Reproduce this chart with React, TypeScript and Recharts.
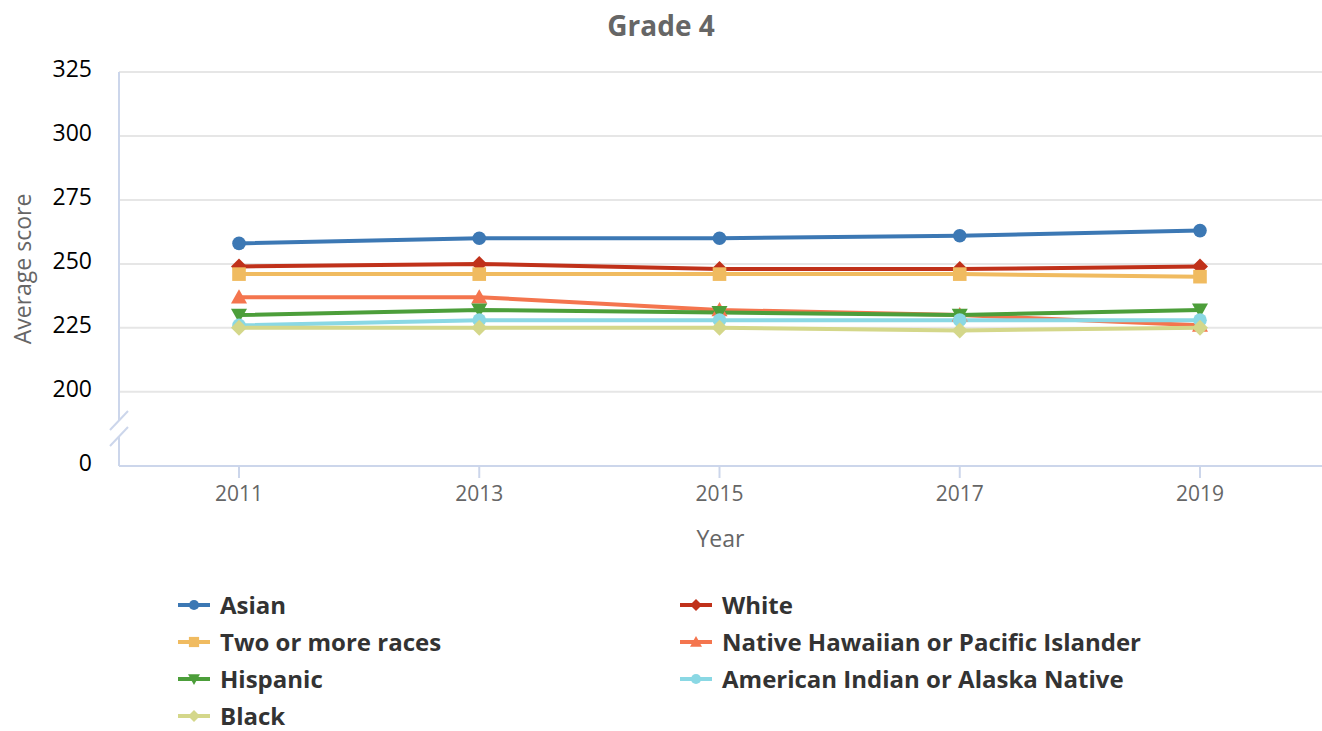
import { LineChart, Line, XAxis, YAxis, CartesianGrid } from "recharts";

const years = ["2011", "2013", "2015", "2017", "2019"];
const asian = [258, 260, 260, 261, 263];
const white = [249, 250, 248, 248, 249];
const twoOrMore = [246, 246, 246, 246, 245];
const nativeHawaiian = [237, 237, 232, 230, 226];
const hispanic = [230, 232, 231, 230, 232];
const americanIndian = [226, 228, 228, 228, 228];
const black = [225, 225, 225, 224, 225];

// the axis is broken: the "0" tick sits where 171 would be
const AXIS_ZERO = 171;
const yTicks = [AXIS_ZERO, 200, 225, 250, 275, 300, 325];

const series = [
  { key: "asian", name: "Asian", values: asian, color: "#3c78b4", shape: "circle" },
  { key: "white", name: "White", values: white, color: "#c0311a", shape: "diamond" },
  { key: "two", name: "Two or more races", values: twoOrMore, color: "#f0bb60", shape: "square" },
  { key: "nhpi", name: "Native Hawaiian or Pacific Islander", values: nativeHawaiian, color: "#f4754e", shape: "triangle" },
  { key: "hisp", name: "Hispanic", values: hispanic, color: "#4c9e3a", shape: "triangle-down" },
  { key: "aian", name: "American Indian or Alaska Native", values: americanIndian, color: "#8ad8e4", shape: "circle" },
  { key: "black", name: "Black", values: black, color: "#d4d78a", shape: "diamond" },
];

const data = years.map((year, i) => {
  const row: any = { year };
  series.forEach((s) => (row[s.key] = s.values[i]));
  return row;
});

const FONT = "'Open Sans', sans-serif";

function Marker({ cx, cy, shape, color, r }: any) {
  if (cx == null || cy == null) return null;
  switch (shape) {
    case "diamond":
      return <path d={`M${cx},${cy - r}L${cx + r},${cy}L${cx},${cy + r}L${cx - r},${cy}Z`} fill={color} />;
    case "square":
      return <rect x={cx - r * 0.85} y={cy - r * 0.85} width={r * 1.7} height={r * 1.7} fill={color} />;
    case "triangle":
      return <path d={`M${cx},${cy - r}L${cx + r},${cy + r * 0.8}L${cx - r},${cy + r * 0.8}Z`} fill={color} />;
    case "triangle-down":
      return <path d={`M${cx - r},${cy - r * 0.8}L${cx + r},${cy - r * 0.8}L${cx},${cy + r}Z`} fill={color} />;
    default:
      return <circle cx={cx} cy={cy} r={r * 0.85} fill={color} />;
  }
}

function YTick({ x, y, payload }: any) {
  const isZero = payload.value === AXIS_ZERO;
  return (
    <g>
      <text x={x} y={y - 4} textAnchor="end" dominantBaseline="central" fill="#000" fontSize={23} fontFamily={FONT}>
        {isZero ? "0" : payload.value}
      </text>
      {isZero && (
        <g>
          <path d={`M${x + 18},${y - 36}L${x + 36},${y - 55}L${x + 36},${y - 39}L${x + 18},${y - 20}Z`} fill="#fff" />
          <line x1={x + 18} y1={y - 36} x2={x + 36} y2={y - 55} stroke="#ccd6eb" strokeWidth={2} />
          <line x1={x + 18} y1={y - 20} x2={x + 36} y2={y - 39} stroke="#ccd6eb" strokeWidth={2} />
        </g>
      )}
    </g>
  );
}

function YLabel({ viewBox }: any) {
  const cy = viewBox.y + viewBox.height / 2;
  return (
    <text x={22} y={cy} transform={`rotate(-90, 22, ${cy})`} textAnchor="middle" dominantBaseline="central" fill="#666" fontSize={23} fontFamily={FONT}>
      Average score
    </text>
  );
}

function XLabel({ viewBox }: any) {
  return (
    <text x={viewBox.x + viewBox.width / 2} y={viewBox.y + 72} textAnchor="middle" dominantBaseline="central" fill="#666" fontSize={23} fontFamily={FONT}>
      Year
    </text>
  );
}

export default function App() {
  return (
    <div style={{ position: "absolute", left: 0, top: 0, width: 1322, height: 731, background: "#fff", fontFamily: FONT }}>
      <div style={{ position: "absolute", left: 0, top: 8, width: 1322, textAlign: "center", fontSize: 28, fontWeight: 700, color: "#666", lineHeight: "34px" }}>
        Grade 4
      </div>
      <LineChart width={1322} height={560} data={data} margin={{ top: 72, right: 0, bottom: 0, left: 0 }}>
        <CartesianGrid vertical={false} stroke="#e6e6e6" strokeWidth={2} />
        <XAxis
          dataKey="year"
          padding={{ left: 120, right: 122 }}
          height={94}
          axisLine={{ stroke: "#ccd6eb", strokeWidth: 2 }}
          tickLine={{ stroke: "#ccd6eb", strokeWidth: 2 }}
          tickSize={12}
          tickMargin={8}
          tick={{ fill: "#666", fontSize: 21, fontFamily: FONT }}
          label={{ content: <XLabel /> }}
        />
        <YAxis
          type="number"
          domain={[AXIS_ZERO, 325]}
          ticks={yTicks}
          allowDataOverflow
          width={119}
          axisLine={{ stroke: "#ccd6eb", strokeWidth: 2 }}
          tickLine={false}
          tickSize={0}
          tickMargin={27}
          tick={<YTick />}
          label={{ content: <YLabel /> }}
        />
        {series.map((s) => (
          <Line
            key={s.key}
            dataKey={s.key}
            name={s.name}
            stroke={s.color}
            strokeWidth={4}
            isAnimationActive={false}
            dot={(p: any) => <Marker key={`${s.key}-${p.index}`} cx={p.cx} cy={p.cy} shape={s.shape} color={s.color} r={8} />}
            activeDot={false}
          />
        ))}
      </LineChart>
      <div style={{ position: "absolute", left: 178, top: 594, width: 1100, display: "grid", gridTemplateColumns: "502px 598px", rowGap: 15 }}>
        {series.map((s) => (
          <div key={s.key} style={{ display: "flex", alignItems: "center", height: 22 }}>
            <svg width={32} height={20} style={{ marginRight: 10, flexShrink: 0 }}>
              <line x1={0} y1={10} x2={32} y2={10} stroke={s.color} strokeWidth={4} />
              <Marker cx={16} cy={10} shape={s.shape} color={s.color} r={6} />
            </svg>
            <div style={{ fontSize: 24, fontWeight: 700, color: "#333", lineHeight: "22px", height: 22, whiteSpace: "nowrap" }}>{s.name}</div>
          </div>
        ))}
      </div>
    </div>
  );
}
